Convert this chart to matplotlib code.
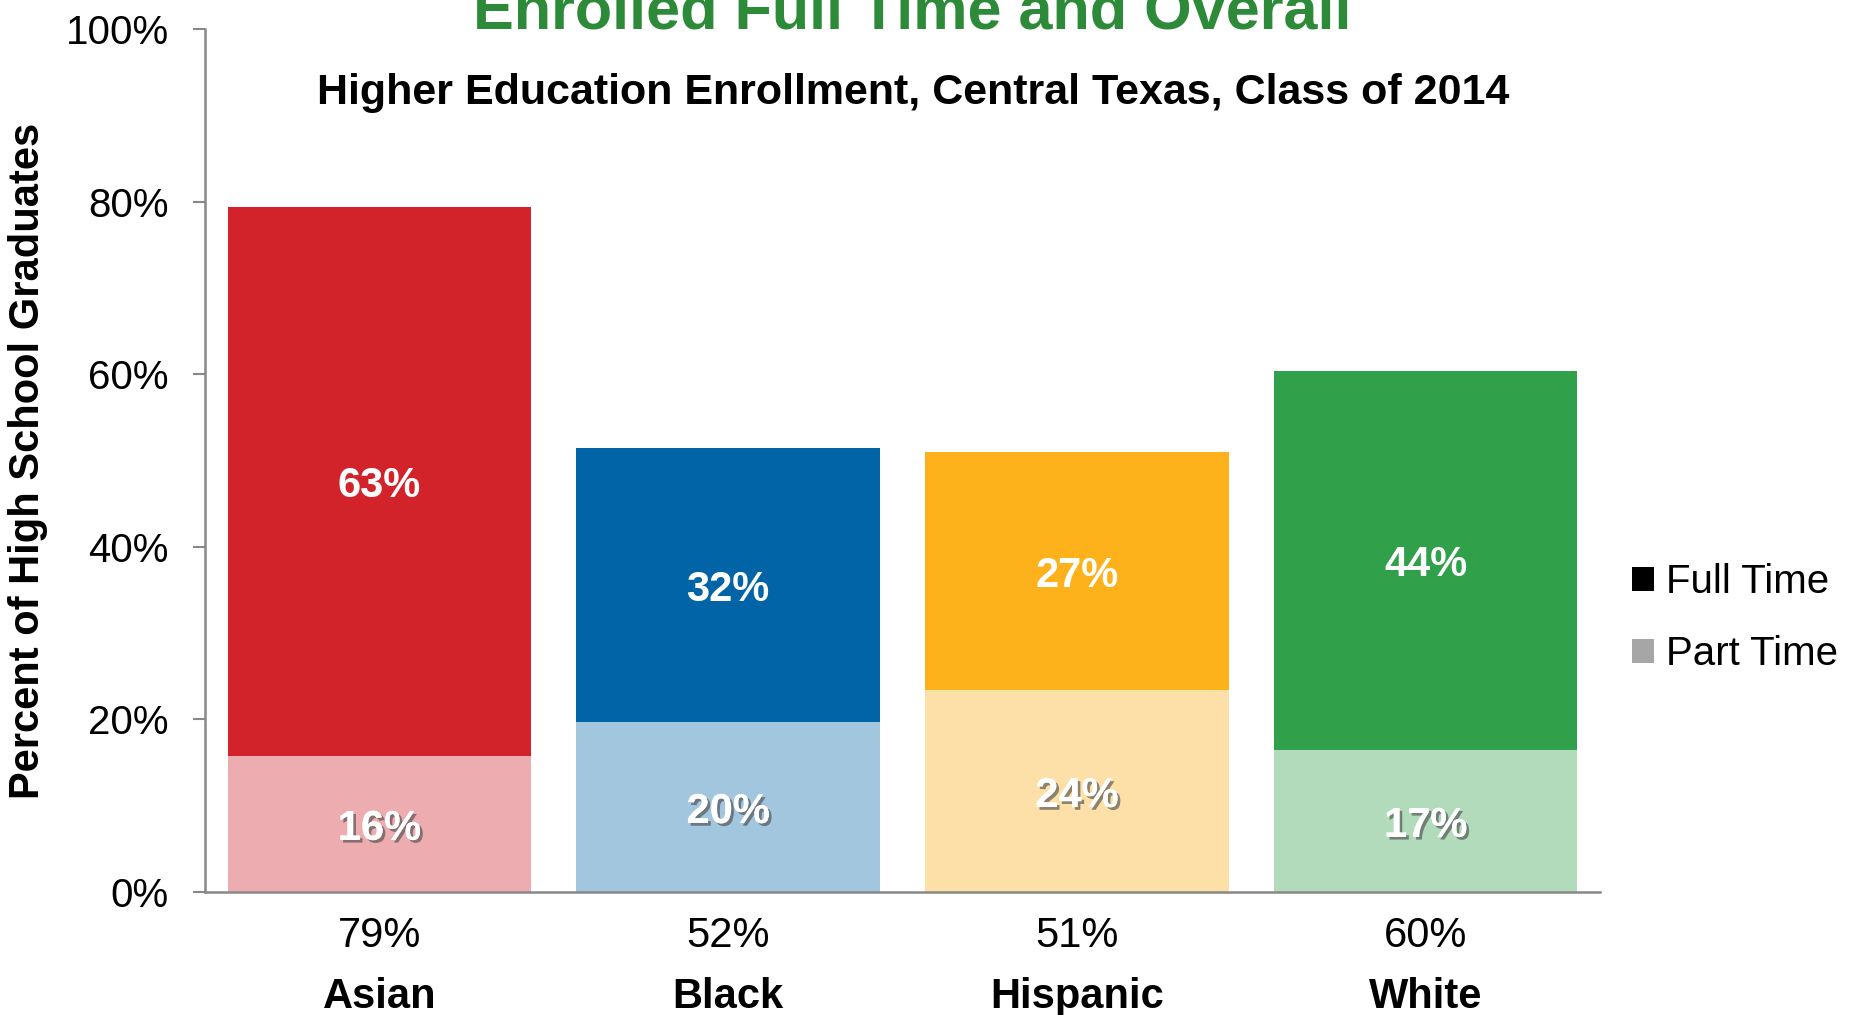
import matplotlib.pyplot as plt
import matplotlib.patheffects as pe
from matplotlib.patches import Patch
import matplotlib.transforms as mtransforms
import numpy as np

# Higher Education Enrollment, Central Texas, Class of 2014
groups = ["Asian", "Black", "Hispanic", "White"]
part_time = [15.8, 19.7, 23.4, 16.5]
full_time = [63.6, 31.7, 27.6, 43.9]
# labels as printed on the original chart
part_labels = ["16%", "20%", "24%", "17%"]
full_labels = ["63%", "32%", "27%", "44%"]
total_labels = ["79%", "52%", "51%", "60%"]

full_colors = ["#D2232A", "#0064A7", "#FDB11A", "#30A04A"]
part_colors = ["#EDADB0", "#A3C6DF", "#FDE0A8", "#B2DBBC"]

plt.rcParams['font.family'] = ['Liberation Sans', 'DejaVu Sans']


def generate_plot():
    fig = plt.figure(figsize=(18.5, 10.15), dpi=100)
    ax = fig.add_axes([0.1108, 0.1212, 0.7541, 0.8502])

    x = np.arange(len(groups))
    ax.bar(x, part_time, width=0.87, color=part_colors)
    ax.bar(x, full_time, bottom=part_time, width=0.87, color=full_colors)

    # value labels centred in each segment (nudged down a little)
    lbl_trans = mtransforms.offset_copy(ax.transData, fig=fig, y=-5, units='dots')
    shadow = [pe.withSimplePatchShadow(offset=(2, -2), shadow_rgbFace='#444444', alpha=0.6),
              pe.Normal()]
    for i in range(len(groups)):
        ax.text(x[i], part_time[i] / 2, part_labels[i], transform=lbl_trans,
                ha='center', va='center', color='white', fontsize=30,
                fontweight='bold', path_effects=shadow)
        ax.text(x[i], part_time[i] + full_time[i] / 2, full_labels[i], transform=lbl_trans,
                ha='center', va='center', color='white', fontsize=30, fontweight='bold')

    # totals and group names below the axis
    trans = mtransforms.blended_transform_factory(ax.transData, ax.transAxes)
    for i in range(len(groups)):
        ax.text(x[i], -0.0637, total_labels[i], transform=trans, ha='center',
                va='baseline', fontsize=30)
        ax.text(x[i], -0.1344, groups[i], transform=trans, ha='center',
                va='baseline', fontsize=30, fontweight='bold')

    ax.set_xlim(-0.5, 3.5)
    ax.set_ylim(0, 100)
    ax.set_xticks([])
    ax.set_yticks([0, 20, 40, 60, 80, 100])
    ax.set_yticklabels([f"{v}%" for v in [0, 20, 40, 60, 80, 100]])
    ax.tick_params(axis='y', length=9, width=1.5, color='#888888', pad=17, labelsize=29)

    for side in ['top', 'right']:
        ax.spines[side].set_visible(False)
    for side in ['left', 'bottom']:
        ax.spines[side].set_color('#888888')
        ax.spines[side].set_linewidth(1.8)

    fig.text(0.0153, 0.546, "Percent of High School Graduates", rotation=90,
             ha='center', va='center', fontsize=30, fontweight='bold')

    fig.text(0.4935, 0.8975, "Higher Education Enrollment, Central Texas, Class of 2014",
             ha='center', va='baseline', fontsize=31, fontweight='bold')

    # main title, cut off at the top edge as in the original
    fig.text(0.493, 0.9724, "Enrolled Full Time and Overall", ha='center', va='baseline',
             fontsize=44, fontweight='bold', color='#2D8A38')

    handles = [Patch(facecolor='black'), Patch(facecolor='#A6A6A6')]
    ax.legend(handles, ["Full Time", "Part Time"], loc='center left',
              bbox_to_anchor=(1632 / 1850, 1 - 618 / 1015), bbox_transform=fig.transFigure,
              frameon=False, fontsize=29, handlelength=0.55, handleheight=0.55,
              handletextpad=0.3, labelspacing=0.85, borderpad=0, borderaxespad=0)

    fig.savefig("out.png", dpi=100)


if __name__ == "__main__":
    generate_plot()
